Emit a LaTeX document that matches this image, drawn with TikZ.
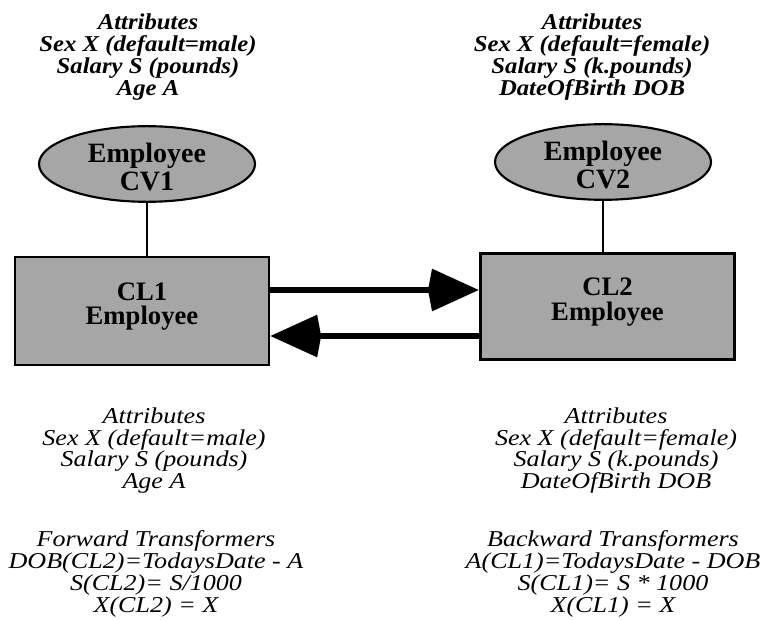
\documentclass[tikz,border=0pt]{standalone}
\usepackage{fontspec}
\setmainfont{Liberation Serif}
\newfontfamily\listfont[FakeStretch=1.15]{Liberation Serif}
\newfontfamily\headlistfont[FakeStretch=1.09]{Liberation Serif}
\usetikzlibrary{shapes.geometric,arrows.meta}

\tikzset{
  viewbox/.style={ellipse, draw=black, line width=1.6pt, fill=black!35,
    minimum width=162pt, minimum height=54pt, inner sep=0pt, align=center,
    font=\bfseries\fontsize{21}{21}\selectfont},
  classbox/.style={rectangle, draw=black, line width=2.2pt, fill=black!35,
    inner sep=0pt, align=center, font=\bfseries\fontsize{20}{18.5}\selectfont},
  attrtop/.style={align=center, inner sep=0pt,
    font=\headlistfont\bfseries\itshape\fontsize{17}{16.3}\selectfont},
  attrbot/.style={align=center, inner sep=0pt,
    font=\listfont\itshape\fontsize{17}{16.3}\selectfont},
  link/.style={line width=1.1pt},
  transfer/.style={line width=5pt,
    -{Kite[length=38pt, width=32pt, inset=3pt]}},
}
% struts that set the text a little lower in the views and higher in the classes
\newcommand{\viewstrut}{\rule{0pt}{18.8pt}}
\newcommand{\classstrut}{\rule[-11pt]{0pt}{0pt}}

\begin{document}
\begin{tikzpicture}[x=0.75pt, y=-0.75pt]
  \useasboundingbox (0,0) rectangle (771,620);

  % attribute lists above the two views
  \node[attrtop] (attrA) at (148,57) {Attributes\\Sex X (default=male)\\Salary S (pounds)\\Age A};
  \node[attrtop] (attrB) at (592,57) {Attributes\\Sex X (default=female)\\Salary S (k.pounds)\\DateOfBirth DOB};

  % class views
  \node[viewbox] (cv1) at (147,164) {\viewstrut Employee\\CV1};
  \node[viewbox] (cv2) at (603,162) {\viewstrut Employee\\CV2};

  % classes
  \node[classbox, minimum width=190.5pt, minimum height=81pt] (cl1) at (142,311) {CL1\\Employee\classstrut};
  \node[classbox, minimum width=191pt, minimum height=80pt] (cl2) at (607.5,306.5) {CL2\\Employee\classstrut};

  % view-to-class links
  \draw[link] (cv1.south) -- (cv1.south |- cl1.north);
  \draw[link] (cv2.south) -- (cv2.south |- cl2.north);

  % forward and backward transformations
  \coordinate (fwdA) at (cl1.east |- 0,290);
  \coordinate (fwdB) at (cl2.west |- 0,290);
  \coordinate (bwdA) at (cl2.west |- 0,336);
  \coordinate (bwdB) at (cl1.east |- 0,336);
  \draw[transfer] (fwdA) -- (fwdB);
  \draw[transfer] (bwdA) -- (bwdB);

  % attribute lists and transformers below the classes
  \node[attrbot] (attrC) at (154,450.5) {Attributes\\Sex X (default=male)\\Salary S (pounds)\\Age A};
  \node[attrbot] (attrD) at (616,450.5) {Attributes\\Sex X (default=female)\\Salary S (k.pounds)\\DateOfBirth DOB};
  \node[attrbot] (fwd) at (156,574) {Forward Transformers\\DOB(CL2)=TodaysDate - A\\S(CL2)= S/1000\\X(CL2) = X};
  \node[attrbot] (bwd) at (613,574) {Backward Transformers\\A(CL1)=TodaysDate - DOB\\S(CL1)= S * 1000\\X(CL1) = X};
\end{tikzpicture}
\end{document}
